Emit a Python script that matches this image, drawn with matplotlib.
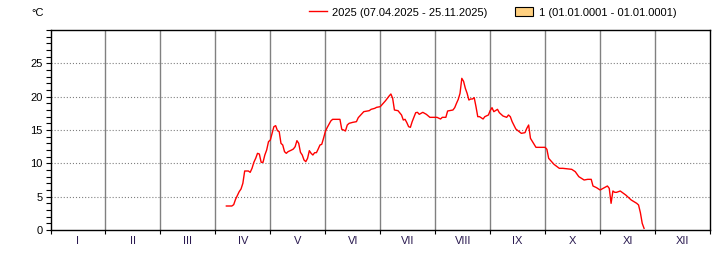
import matplotlib
matplotlib.use('Agg')

import matplotlib.pyplot as plt
from matplotlib.lines import Line2D
from matplotlib.patches import Patch
from matplotlib.ticker import FixedLocator, MultipleLocator, NullFormatter
import calendar

# daily mean temperature 2025, vertices (day.month, degC)
dates = [
    "07.04", "10.04", "11.04", "12.04", "14.04", "15.04", "16.04", "17.04", "19.04", "20.04",
    "21.04", "22.04", "23.04", "24.04", "25.04", "26.04", "27.04", "28.04", "29.04", "30.04",
    "01.05", "02.05", "03.05", "04.05", "05.05", "06.05", "07.05", "08.05", "09.05", "10.05",
    "11.05", "13.05", "14.05", "15.05", "16.05", "17.05", "18.05", "19.05", "20.05", "21.05",
    "22.05", "23.05", "24.05", "25.05", "26.05", "27.05", "28.05", "29.05", "30.05", "31.05",
    "01.06", "02.06", "03.06", "04.06", "05.06", "09.06", "10.06", "11.06", "12.06", "13.06",
    "14.06", "16.06", "18.06", "19.06", "20.06", "22.06", "25.06", "26.06", "28.06", "29.06",
    "01.07", "03.07", "04.07", "05.07", "06.07", "07.07", "08.07", "09.07", "11.07", "13.07",
    "14.07", "15.07", "16.07", "17.07", "18.07", "19.07", "21.07", "22.07", "23.07", "25.07",
    "27.07", "29.07", "02.08", "04.08", "05.08", "07.08", "08.08", "11.08", "12.08", "13.08",
    "14.08", "15.08", "16.08", "17.08", "18.08", "19.08", "20.08", "21.08", "22.08", "23.08",
    "24.08", "25.08", "26.08", "28.08", "29.08", "31.08", "01.09", "02.09", "03.09", "05.09",
    "06.09", "08.09", "10.09", "11.09", "12.09", "13.09", "15.09", "18.09", "20.09", "21.09",
    "22.09", "23.09", "26.09", "01.10", "02.10", "03.10", "06.10", "09.10", "11.10", "16.10",
    "18.10", "20.10", "23.10", "25.10", "27.10", "28.10", "30.10", "01.11", "02.11", "05.11",
    "06.11", "07.11", "08.11", "09.11", "10.11", "12.11", "13.11", "15.11", "18.11", "21.11",
    "22.11", "23.11", "24.11", "25.11",
]
temps = [
    3.6, 3.6, 3.8, 4.6, 5.75, 6.15, 7.0, 8.85, 8.85, 8.65,
    9.25, 10.15, 10.75, 11.5, 11.4, 10.15, 10.15, 11.25, 12.0, 13.25,
    13.5, 14.5, 15.5, 15.65, 14.9, 14.75, 13.0, 12.75, 11.75, 11.5,
    11.75, 12.0, 12.15, 12.5, 13.4, 13.0, 11.65, 11.25, 10.5, 10.25,
    10.75, 11.9, 11.5, 11.25, 11.6, 11.6, 12.15, 12.75, 12.85, 13.75,
    14.75, 15.35, 15.85, 16.35, 16.6, 16.6, 15.1, 15.0, 14.85, 15.75,
    16.0, 16.15, 16.25, 16.85, 17.15, 17.75, 17.9, 18.1, 18.25, 18.4,
    18.5, 19.1, 19.4, 19.75, 20.1, 20.4, 19.75, 18.0, 17.9, 17.25,
    16.5, 16.6, 16.1, 15.5, 15.4, 16.25, 17.6, 17.65, 17.35, 17.65,
    17.35, 16.9, 16.9, 16.65, 16.9, 16.9, 17.85, 18.0, 18.35, 19.0,
    19.6, 20.5, 22.75, 22.3, 21.25, 20.5, 19.5, 19.65, 19.65, 19.85,
    18.5, 17.0, 17.0, 16.65, 17.0, 17.25, 17.9, 18.35, 17.75, 18.1,
    17.6, 17.1, 16.9, 17.25, 17.0, 16.25, 15.15, 14.5, 14.6, 15.25,
    15.75, 13.75, 12.4, 12.4, 12.1, 10.75, 9.85, 9.25, 9.25, 9.1,
    8.75, 8.0, 7.5, 7.6, 7.6, 6.6, 6.35, 6.0, 6.15, 6.6,
    6.25, 4.0, 5.85, 5.65, 5.65, 5.85, 5.65, 5.25, 4.5, 4.0,
    3.75, 2.6, 1.0, 0.25,
]
year = 2025
months = ["I", "II", "III", "IV", "V", "VI", "VII", "VIII", "IX", "X", "XI", "XII"]
series_label = "2025 (07.04.2025 - 25.11.2025)"
ref_label = "1 (01.01.0001 - 01.01.0001)"

# each month gets the same width on the x axis
def month_pos(s):
    d, m = [int(v) for v in s.split(".")]
    return (m - 1) + (d - 1) / calendar.monthrange(year, m)[1]

xs = [month_pos(s) for s in dates]

plt.rcParams['font.family'] = ['Liberation Sans', 'DejaVu Sans']
plt.rcParams['font.size'] = 8

fig = plt.figure(figsize=(7.2, 2.6), dpi=100)
ax = fig.add_axes([50.5 / 720, 1 - 230 / 260, 659.5 / 720, 200 / 260])

# month separators
for m in range(1, 12):
    ax.axvline(m, color='#808080', lw=1.0, zorder=1)
# dotted horizontal grid
for v in range(5, 30, 5):
    ax.axhline(v, color='#808080', lw=0.8, ls=(0, (1, 1.75)), zorder=1)

ax.plot(xs, temps, color='#ff0000', lw=1.0, zorder=3)

ax.set_xlim(0, 12)
ax.set_ylim(0, 30)

ax.xaxis.set_major_locator(FixedLocator(range(0, 13)))
ax.xaxis.set_major_formatter(NullFormatter())
ax.xaxis.set_minor_locator(FixedLocator([m + 0.5 for m in range(12)]))
ax.set_xticklabels(months, minor=True)
ax.tick_params(axis='x', which='major', direction='out', length=3, width=0.8)
ax.tick_params(axis='x', which='minor', length=0, pad=4, labelcolor='#2a1a50')

ax.yaxis.set_major_locator(FixedLocator(range(0, 30, 5)))
ax.yaxis.set_minor_locator(MultipleLocator(1))
ax.tick_params(axis='y', which='both', direction='out', length=3.5, width=0.8, pad=2)

for sp in ax.spines.values():
    sp.set_linewidth(1.0)
    sp.set_color('black')

fig.text(31 / 720, 1 - 13 / 260, "°C", va='center', ha='left')

handles = [
    Line2D([], [], color='#ff0000', lw=1.0),
    Patch(facecolor='#ffd080', edgecolor='black', lw=0.8),
]
fig.legend(handles, [series_label, ref_label], loc='center left',
           bbox_to_anchor=(309 / 720, 1 - 12.5 / 260), ncol=2, frameon=False,
           handlelength=1.6, handleheight=0.8, handletextpad=0.5,
           columnspacing=2.5, borderpad=0, borderaxespad=0)

plt.savefig("out.png", dpi=100)
